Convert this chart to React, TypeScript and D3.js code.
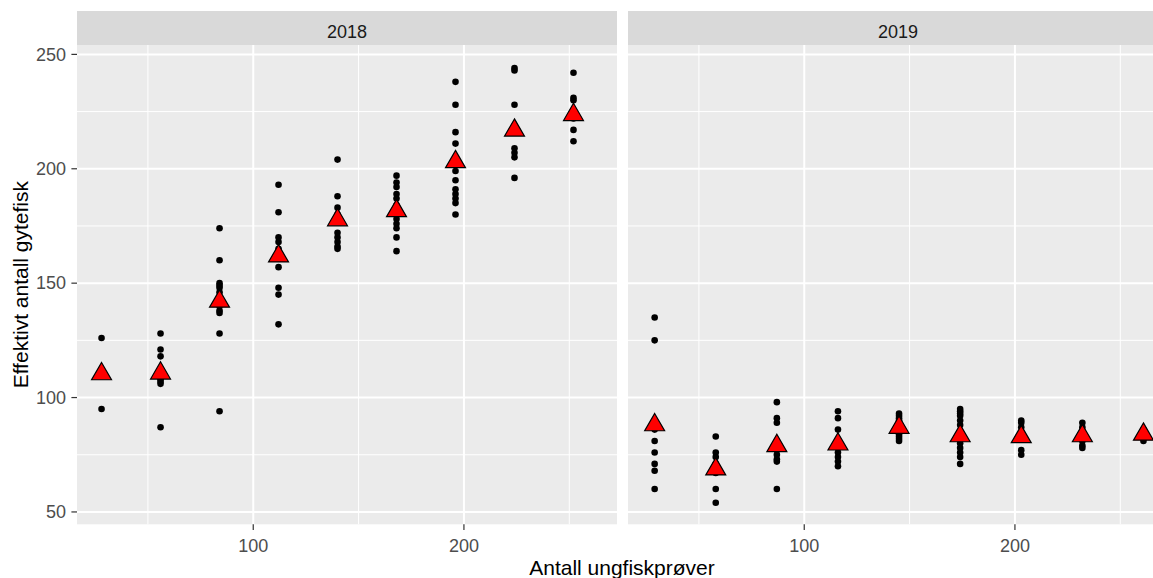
import React from "react";
import * as d3 from "d3";

// facet labels
const years = ["2018", "2019"];

// x: number of juvenile samples per column
const samples2018 = [28, 56, 84, 112, 140, 168, 196, 224, 252];
const samples2019 = [29, 58, 87, 116, 145, 174, 203, 232, 261];

// y: individual estimates per column
const points2018 = [
  [126, 95],
  [128, 121, 118, 108, 107, 106, 87],
  [174, 160, 150, 149, 148, 146, 140, 138, 137, 128, 94],
  [193, 181, 170, 168, 165, 163, 157, 148, 145, 132],
  [204, 188, 183, 180, 172, 170, 168, 166, 165],
  [197, 194, 192, 189, 187, 184, 180, 178, 176, 174, 170, 164],
  [238, 228, 216, 211, 205, 202, 199, 195, 191, 189, 187, 185, 180],
  [244, 243, 228, 209, 207, 205, 196],
  [242, 231, 230, 222, 217, 212],
];
const points2019 = [
  [135, 125, 86, 81, 76, 71, 68, 60],
  [83, 76, 74, 71, 67, 60, 54],
  [98, 91, 89, 80, 77, 75, 73, 72, 60],
  [94, 91, 86, 80, 78, 76, 74, 72, 70],
  [93, 92, 91, 90, 88, 86, 84, 83, 82, 81],
  [95, 94, 93, 92, 90, 88, 85, 82, 80, 78, 76, 74, 71],
  [90, 89, 87, 84, 82, 77, 75],
  [89, 87, 85, 83, 81, 79, 78],
  [86, 84, 82, 81],
];

// red triangles: column means
const means2018 = [110.3, 110.6, 142, 161.8, 177.6, 181.6, 203, 216.8, 223.6];
const means2019 = [88, 68.7, 78.9, 79.6, 86.9, 83.2, 82.8, 83.2, 83.9];

const xTicks = [100, 200];
const xMinor = [50, 150, 250];
const yTicks = [50, 100, 150, 200, 250];
const yMinor = [75, 125, 175, 225];

const W = 1153;
const H = 578;
const panelLeft = 77;
const panelW = 540;
const gap = 11;
const stripTop = 11;
const panelTop = 45;
const panelBottom = 524.3;

const font = "'Liberation Sans', Arial, sans-serif";

const App = () => {
  const x = d3.scaleLinear().domain([16.35, 272.65]).range([0, panelW]);
  const y = d3.scaleLinear().domain([44.6, 254.1]).range([panelBottom, panelTop]);

  const panels = [
    { label: years[0], xs: samples2018, pts: points2018, means: means2018 },
    { label: years[1], xs: samples2019, pts: points2019, means: means2019 },
  ];

  // ggplot shape 24, centred on the centroid
  const tri = (cx: number, cy: number) => {
    const u = 7.4;
    return `M${cx},${cy - 1.555 * u}L${cx + 1.347 * u},${cy + 0.778 * u}L${cx - 1.347 * u},${cy + 0.778 * u}Z`;
  };

  return (
    <svg
      width={W}
      height={H}
      style={{ position: "absolute", left: 0, top: 0, background: "#fff" }}
    >
      {panels.map((p, i) => {
        const ox = panelLeft + i * (panelW + gap);
        return (
          <g key={p.label} transform={`translate(${ox},0)`}>
            <rect x={0} y={stripTop} width={panelW} height={panelTop - stripTop} fill="#D9D9D9" />
            <text
              x={panelW / 2}
              y={38}
              textAnchor="middle"
              fontFamily={font}
              fontSize={18}
              fill="#1A1A1A"
            >
              {p.label}
            </text>
            <rect x={0} y={panelTop} width={panelW} height={panelBottom - panelTop} fill="#EBEBEB" />
            {yMinor.map((v) => (
              <line key={"ym" + v} x1={0} x2={panelW} y1={y(v)} y2={y(v)} stroke="#fff" strokeWidth={1} />
            ))}
            {xMinor.map((v) => (
              <line key={"xm" + v} x1={x(v)} x2={x(v)} y1={panelTop} y2={panelBottom} stroke="#fff" strokeWidth={1} />
            ))}
            {yTicks.map((v) => (
              <line key={"yt" + v} x1={0} x2={panelW} y1={y(v)} y2={y(v)} stroke="#fff" strokeWidth={2} />
            ))}
            {xTicks.map((v) => (
              <line key={"xt" + v} x1={x(v)} x2={x(v)} y1={panelTop} y2={panelBottom} stroke="#fff" strokeWidth={2} />
            ))}
            {p.pts.map((col, ci) =>
              col.map((v, k) => (
                <circle key={`p${ci}-${k}`} cx={x(p.xs[ci])} cy={y(v)} r={3.3} fill="#000" />
              ))
            )}
            {p.means.map((m, ci) => (
              <path key={"m" + ci} d={tri(x(p.xs[ci]), y(m))} fill="#FF0000" stroke="#000" strokeWidth={1.2} />
            ))}
            {xTicks.map((v) => (
              <g key={"xl" + v}>
                <line x1={x(v)} x2={x(v)} y1={panelBottom} y2={panelBottom + 5.6} stroke="#333" strokeWidth={1.2} />
                <text
                  x={x(v)}
                  y={551.5}
                  textAnchor="middle"
                  fontFamily={font}
                  fontSize={18}
                  fill="#4D4D4D"
                >
                  {v}
                </text>
              </g>
            ))}
          </g>
        );
      })}
      {yTicks.map((v) => (
        <g key={"yl" + v}>
          <line x1={panelLeft - 5.6} x2={panelLeft} y1={y(v)} y2={y(v)} stroke="#333" strokeWidth={1.2} />
          <text
            x={66}
            y={y(v)}
            dy="0.35em"
            textAnchor="end"
            fontFamily={font}
            fontSize={18}
            fill="#4D4D4D"
          >
            {v}
          </text>
        </g>
      ))}
      <text
        transform={`translate(28,${(panelTop + panelBottom) / 2}) rotate(-90)`}
        textAnchor="middle"
        fontFamily={font}
        fontSize={21}
        fill="#000"
      >
        Effektivt antall gytefisk
      </text>
      <text
        x={622}
        y={575}
        textAnchor="middle"
        fontFamily={font}
        fontSize={21}
        fill="#000"
      >
        Antall ungfiskprøver
      </text>
    </svg>
  );
};

export default App;
